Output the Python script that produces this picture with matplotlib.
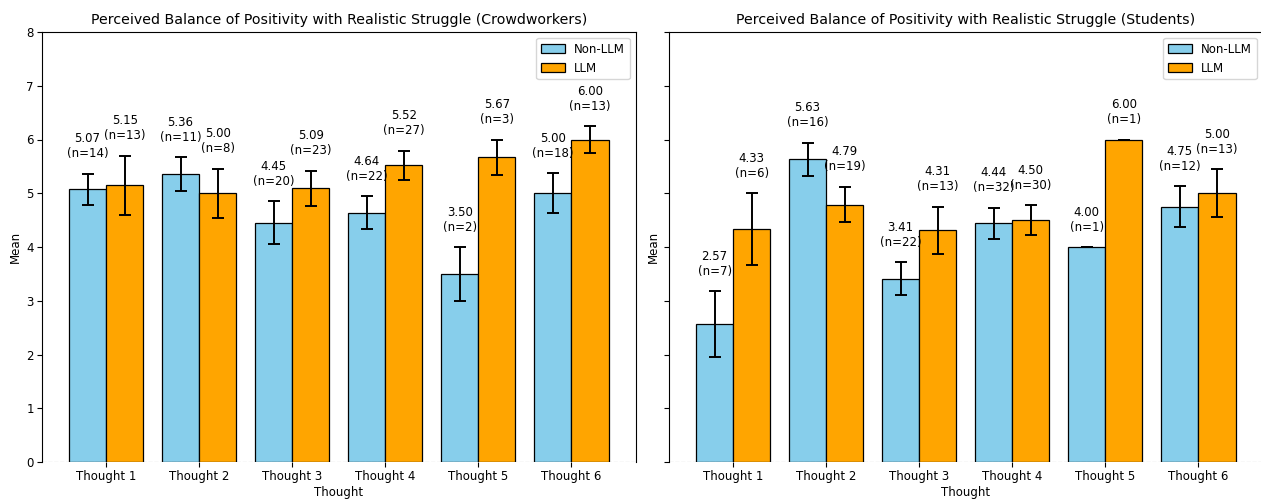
import matplotlib
matplotlib.use("Agg")
import matplotlib.pyplot as plt
import numpy as np

thoughts = ["Thought 1", "Thought 2", "Thought 3", "Thought 4", "Thought 5", "Thought 6"]

crowd_nonllm_mean = [5.07, 5.36, 4.45, 4.64, 3.50, 5.00]
crowd_nonllm_err = [0.29, 0.31, 0.40, 0.31, 0.50, 0.37]
crowd_nonllm_n = [14, 11, 20, 22, 2, 18]
crowd_llm_mean = [5.15, 5.00, 5.09, 5.52, 5.67, 6.00]
crowd_llm_err = [0.55, 0.46, 0.33, 0.27, 0.33, 0.25]
crowd_llm_n = [13, 8, 23, 27, 3, 13]

stud_nonllm_mean = [2.57, 5.63, 3.41, 4.44, 4.00, 4.75]
stud_nonllm_err = [0.61, 0.31, 0.31, 0.29, 0.0, 0.385]
stud_nonllm_n = [7, 16, 22, 32, 1, 12]
stud_llm_mean = [4.33, 4.79, 4.31, 4.50, 6.00, 5.00]
stud_llm_err = [0.67, 0.33, 0.44, 0.28, 0.0, 0.45]
stud_llm_n = [6, 19, 13, 30, 1, 13]

titles = ["Perceived Balance of Positivity with Realistic Struggle (Crowdworkers)",
          "Perceived Balance of Positivity with Realistic Struggle (Students)"]

fig = plt.figure(figsize=(12.61, 5.0), dpi=100)
ax1 = fig.add_axes([42 / 1261, 0.076, 593.5 / 1261, 0.86])
ax2 = fig.add_axes([669 / 1261, 0.076, 593.5 / 1261, 0.86], sharey=ax1)

datasets = [
    (crowd_nonllm_mean, crowd_nonllm_err, crowd_nonllm_n, crowd_llm_mean, crowd_llm_err, crowd_llm_n),
    (stud_nonllm_mean, stud_nonllm_err, stud_nonllm_n, stud_llm_mean, stud_llm_err, stud_llm_n),
]

fs = 8.5
w = 0.4
x = np.arange(len(thoughts))
for ax, title, (nm, ne, nn, lm, le, ln) in zip([ax1, ax2], titles, datasets):
    ekw = dict(elinewidth=1.4, capthick=1.4)
    ax.bar(x - w / 2, nm, w, yerr=ne, capsize=4.2, color="skyblue", edgecolor="black",
           linewidth=0.9, label="Non-LLM", error_kw=ekw)
    ax.bar(x + w / 2, lm, w, yerr=le, capsize=4.2, color="orange", edgecolor="black",
           linewidth=0.9, label="LLM", error_kw=ekw)
    for xi, m, e, n in zip(x - w / 2, nm, ne, nn):
        ax.text(xi, m + e + 0.25, f"{m:.2f}\n(n={n})", ha="center", va="bottom", fontsize=fs)
    for xi, m, e, n in zip(x + w / 2, lm, le, ln):
        ax.text(xi, m + e + 0.25, f"{m:.2f}\n(n={n})", ha="center", va="bottom", fontsize=fs)
    ax.axhline(0, color="gray", linestyle="--", linewidth=0.8)
    ax.spines["bottom"].set_visible(False)
    ax.set_xticks(x)
    ax.set_xticklabels(thoughts)
    ax.tick_params(axis="both", labelsize=fs, length=3.3, pad=2.5)
    ax.set_ylim(0, 8)
    ax.set_title(title, fontsize=10.15, pad=5.5)
    ax.set_xlabel("Thought", fontsize=fs, labelpad=2)
    ax.set_ylabel("Mean", fontsize=fs, labelpad=3)
    ax.legend(loc="upper right", fontsize=fs)

plt.setp(ax2.get_yticklabels(), visible=False)
fig.savefig("out.png", dpi=100)
